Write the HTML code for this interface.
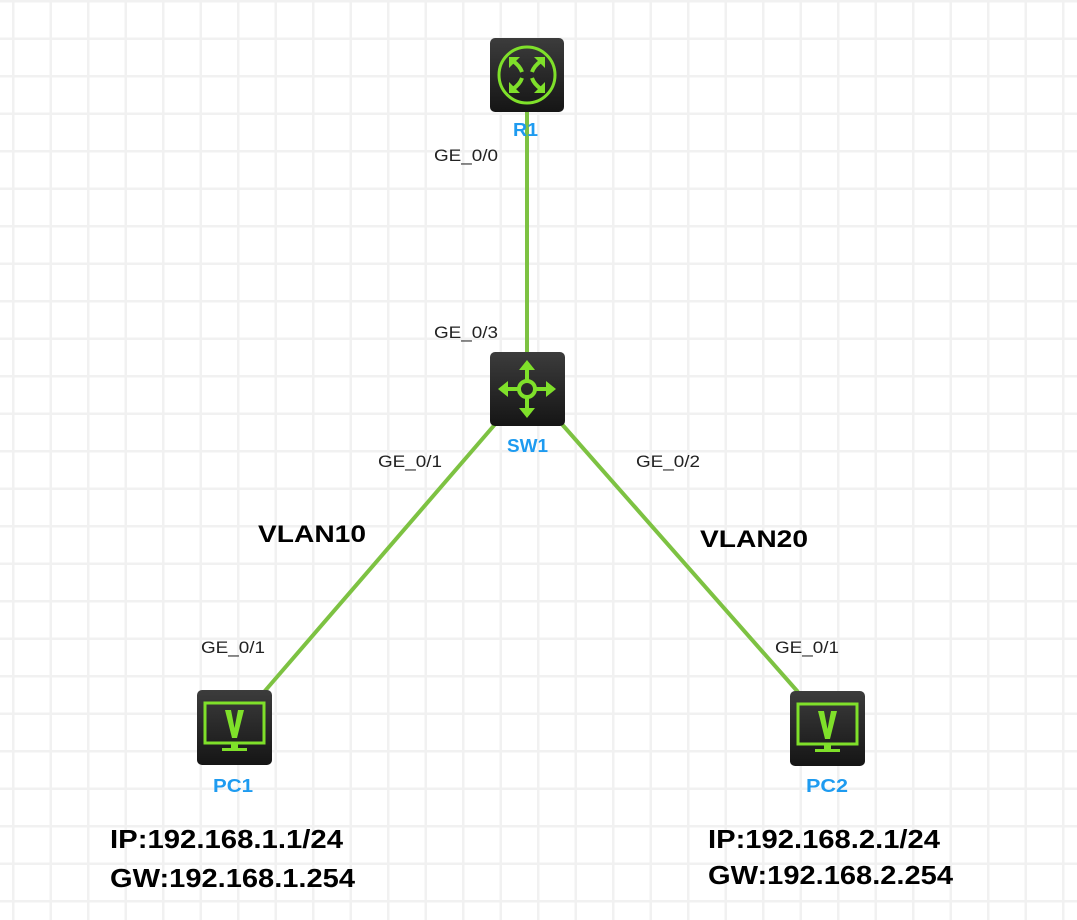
<!DOCTYPE html>
<html><head><meta charset="utf-8"><style>
html,body{margin:0;padding:0;background:#fff;}
svg{display:block;}
text{font-family:"Liberation Sans",Arial,sans-serif;}
</style></head><body>
<svg width="1077" height="920" viewBox="0 0 1077 920" xmlns="http://www.w3.org/2000/svg">
<defs>
<pattern id="g" x="12" y="0" width="37.5" height="37.5" patternUnits="userSpaceOnUse">
<rect x="0" y="0" width="2.5" height="37.5" fill="#f1f1f1"/>
<rect x="0" y="0" width="37.5" height="2.5" fill="#f1f1f1"/>
</pattern>
<linearGradient id="bx" x1="0" y1="0" x2="0" y2="1">
<stop offset="0" stop-color="#3c3c3c"/><stop offset="1" stop-color="#151515"/>
</linearGradient>
</defs>
<rect width="1077" height="920" fill="#fff"/>
<rect width="1077" height="920" fill="url(#g)"/>
<g stroke="#7dc242" stroke-width="4">
<line x1="527" y1="110" x2="527" y2="355"/>
<line x1="497" y1="422" x2="264" y2="692"/>
<line x1="560" y1="422" x2="798" y2="692"/>
</g>
<!-- R1 -->
<rect x="490" y="38" width="74" height="74" rx="5" fill="url(#bx)"/>
<circle cx="527" cy="75" r="28" fill="none" stroke="#7fe02a" stroke-width="3"/>
<g stroke="#7fe02a" stroke-width="4" fill="none">
<path d="M513 61 Q520 66 522 72 M541 61 Q534 66 532 72 M513 89 Q520 84 522 78 M541 89 Q534 84 532 78"/>
</g>
<g fill="#7fe02a">
<polygon points="509,57 520,57 509,68"/><polygon points="545,57 534,57 545,68"/>
<polygon points="509,93 520,93 509,82"/><polygon points="545,93 534,93 545,82"/>
</g>
<!-- SW1 -->
<rect x="490" y="352" width="75" height="74" rx="5" fill="url(#bx)"/>
<circle cx="527" cy="389" r="8" fill="none" stroke="#7fe02a" stroke-width="4"/>
<g stroke="#7fe02a" stroke-width="4">
<line x1="527" y1="381" x2="527" y2="366"/><line x1="527" y1="397" x2="527" y2="412"/>
<line x1="519" y1="389" x2="504" y2="389"/><line x1="535" y1="389" x2="550" y2="389"/>
</g>
<g fill="#7fe02a">
<polygon points="527,360 519,370 535,370"/><polygon points="527,418 519,408 535,408"/>
<polygon points="498,389 508,381 508,397"/><polygon points="556,389 546,381 546,397"/>
</g>
<!-- PCs -->
<g transform="translate(197,690)">
<rect width="75" height="75" rx="5" fill="url(#bx)"/>
<rect x="8" y="13" width="59" height="40" fill="none" stroke="#7fe02a" stroke-width="3"/>
<polygon points="28,20 34,20 37.5,38 41,20 47,20 40,48 35,48" fill="#7fe02a"/>
<rect x="34" y="53" width="7" height="5" fill="#7fe02a"/>
<rect x="25" y="58" width="25" height="3" fill="#7fe02a"/>
</g>
<g transform="translate(790,691)">
<rect width="75" height="75" rx="5" fill="url(#bx)"/>
<rect x="8" y="13" width="59" height="40" fill="none" stroke="#7fe02a" stroke-width="3"/>
<polygon points="28,20 34,20 37.5,38 41,20 47,20 40,48 35,48" fill="#7fe02a"/>
<rect x="34" y="53" width="7" height="5" fill="#7fe02a"/>
<rect x="25" y="58" width="25" height="3" fill="#7fe02a"/>
</g>
<g fill="#1e9bf0" font-weight="bold" font-size="18">
<text x="513" y="136" textLength="25" lengthAdjust="spacingAndGlyphs">R1</text>
<text x="507" y="452" textLength="41" lengthAdjust="spacingAndGlyphs">SW1</text>
<text x="213" y="792" textLength="40" lengthAdjust="spacingAndGlyphs">PC1</text>
<text x="806" y="792" textLength="42" lengthAdjust="spacingAndGlyphs">PC2</text>
</g>
<g fill="#222" font-size="17">
<text x="434" y="161" textLength="64" lengthAdjust="spacingAndGlyphs">GE_0/0</text>
<text x="434" y="338" textLength="64" lengthAdjust="spacingAndGlyphs">GE_0/3</text>
<text x="378" y="467" textLength="64" lengthAdjust="spacingAndGlyphs">GE_0/1</text>
<text x="636" y="467" textLength="64" lengthAdjust="spacingAndGlyphs">GE_0/2</text>
<text x="201" y="653" textLength="64" lengthAdjust="spacingAndGlyphs">GE_0/1</text>
<text x="775" y="653" textLength="64" lengthAdjust="spacingAndGlyphs">GE_0/1</text>
</g>
<g fill="#000" font-weight="bold">
<text x="258" y="542" font-size="24" textLength="108" lengthAdjust="spacingAndGlyphs">VLAN10</text>
<text x="700" y="547" font-size="24" textLength="108" lengthAdjust="spacingAndGlyphs">VLAN20</text>
<text x="110" y="848" font-size="26" textLength="233" lengthAdjust="spacingAndGlyphs">IP:192.168.1.1/24</text>
<text x="110" y="887" font-size="26" textLength="245" lengthAdjust="spacingAndGlyphs">GW:192.168.1.254</text>
<text x="708" y="848" font-size="26" textLength="232" lengthAdjust="spacingAndGlyphs">IP:192.168.2.1/24</text>
<text x="708" y="884" font-size="26" textLength="245" lengthAdjust="spacingAndGlyphs">GW:192.168.2.254</text>
</g>
</svg>
</body></html>
